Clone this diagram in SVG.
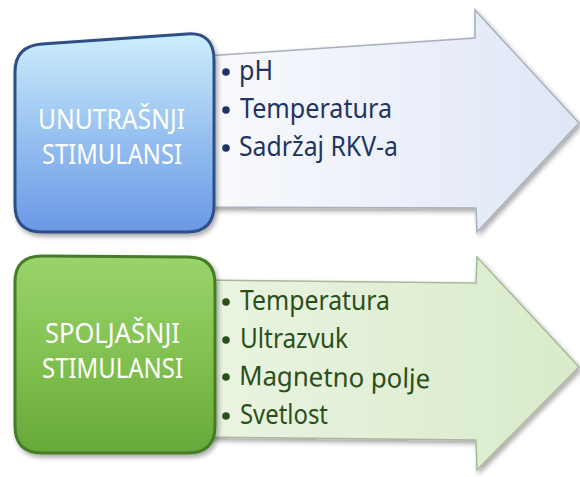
<svg xmlns="http://www.w3.org/2000/svg" width="580" height="477" viewBox="0 0 580 477">
<defs>
<linearGradient id="gBlue" x1="0" y1="0" x2="0" y2="1">
<stop offset="0" stop-color="#cdeefc"/>
<stop offset="0.5" stop-color="#98c2f0"/>
<stop offset="1" stop-color="#6a98e6"/>
</linearGradient>
<linearGradient id="gGreen" x1="0" y1="0" x2="0" y2="1">
<stop offset="0" stop-color="#9ad46c"/>
<stop offset="0.6" stop-color="#7dbd4c"/>
<stop offset="1" stop-color="#66a83a"/>
</linearGradient>
<linearGradient id="aBlue" x1="0" y1="0" x2="1" y2="0">
<stop offset="0" stop-color="#f9fafd"/>
<stop offset="1" stop-color="#dfe6f6"/>
</linearGradient>
<linearGradient id="aGreen" x1="0" y1="0" x2="1" y2="0">
<stop offset="0" stop-color="#eaf4e2"/>
<stop offset="1" stop-color="#d9ebca"/>
</linearGradient>
<filter id="sh" x="-10%" y="-10%" width="130%" height="130%">
<feGaussianBlur in="SourceAlpha" stdDeviation="2.5"/>
<feOffset dx="2" dy="3" result="b"/>
<feComponentTransfer><feFuncA type="linear" slope="0.35"/></feComponentTransfer>
<feMerge><feMergeNode/><feMergeNode in="SourceGraphic"/></feMerge>
</filter>
</defs>
<style>
.arrB{fill:url(#aBlue);stroke:#a9afbd;stroke-width:1.5}
.arrG{fill:url(#aGreen);stroke:#a8b99a;stroke-width:1.5}
.boxB{fill:url(#gBlue);stroke:#2e4f86;stroke-width:3}
.boxG{fill:url(#gGreen);stroke:#447d28;stroke-width:3}
.bt{font-family:"Noto Sans","Open Sans",sans-serif;font-size:27px;fill:#ffffff}
.lt{font-family:"Noto Sans","Open Sans",sans-serif;font-size:27px}
.lb{fill:#1f3560}
.lg{fill:#2b4f18}
</style>
<g id="connectors">
<path class="arrB" filter="url(#sh)" d="M205,56 L475,38 L475,10 L579,123 L477,232 L476,208 L205,207 Z"/>
<path class="arrG" filter="url(#sh)" d="M205,280 L476,283 L477,257 L579,367 L477,470 L476,440 L205,437 Z"/>
</g>
<g id="node-unutrasnji">
<path class="boxB" filter="url(#sh)" d="M15,72 Q15,46 42,44 L187,34 Q214,32 214,60 L214,205 Q214,232 187,232 L42,232 Q15,232 15,205 Z"/>
<text class="bt" x="38" y="129" textLength="147" lengthAdjust="spacingAndGlyphs">UNUTRAŠNJI</text>
<text class="bt" x="42" y="164" textLength="140" lengthAdjust="spacingAndGlyphs">STIMULANSI</text>
</g>
<g id="list-unutrasnji">
<circle class="lb" cx="226" cy="72" r="3.8"/>
<text class="lt lb" x="239" y="80" textLength="34" lengthAdjust="spacingAndGlyphs">pH</text>
<circle class="lb" cx="226" cy="110" r="3.8"/>
<text class="lt lb" x="240" y="118" textLength="152" lengthAdjust="spacingAndGlyphs">Temperatura</text>
<circle class="lb" cx="226" cy="148" r="3.8"/>
<text class="lt lb" x="239" y="156" textLength="159" lengthAdjust="spacingAndGlyphs">Sadržaj RKV-a</text>
</g>
<g id="node-spoljasnji">
<path class="boxG" filter="url(#sh)" d="M15,282 Q15,256 42,256 L188,257 Q215,257 215,284 L215,426 Q215,453 188,453 L42,453 Q15,453 15,426 Z"/>
<text class="bt" x="45" y="343" textLength="135" lengthAdjust="spacingAndGlyphs">SPOLJAŠNJI</text>
<text class="bt" x="42" y="378" textLength="141" lengthAdjust="spacingAndGlyphs">STIMULANSI</text>
</g>
<g id="list-spoljasnji">
<circle class="lg" cx="226" cy="302" r="3.8"/>
<text class="lt lg" x="240" y="310" textLength="150" lengthAdjust="spacingAndGlyphs">Temperatura</text>
<circle class="lg" cx="226" cy="340" r="3.8"/>
<text class="lt lg" x="240" y="348" textLength="108" lengthAdjust="spacingAndGlyphs">Ultrazvuk</text>
<circle class="lg" cx="226" cy="377" r="3.8"/>
<text class="lt lg" x="239" y="385" textLength="191" lengthAdjust="spacingAndGlyphs" transform="rotate(1 239 385)">Magnetno polje</text>
<circle class="lg" cx="226" cy="416" r="3.8"/>
<text class="lt lg" x="240" y="424" textLength="88" lengthAdjust="spacingAndGlyphs">Svetlost</text>
</g>
</svg>
